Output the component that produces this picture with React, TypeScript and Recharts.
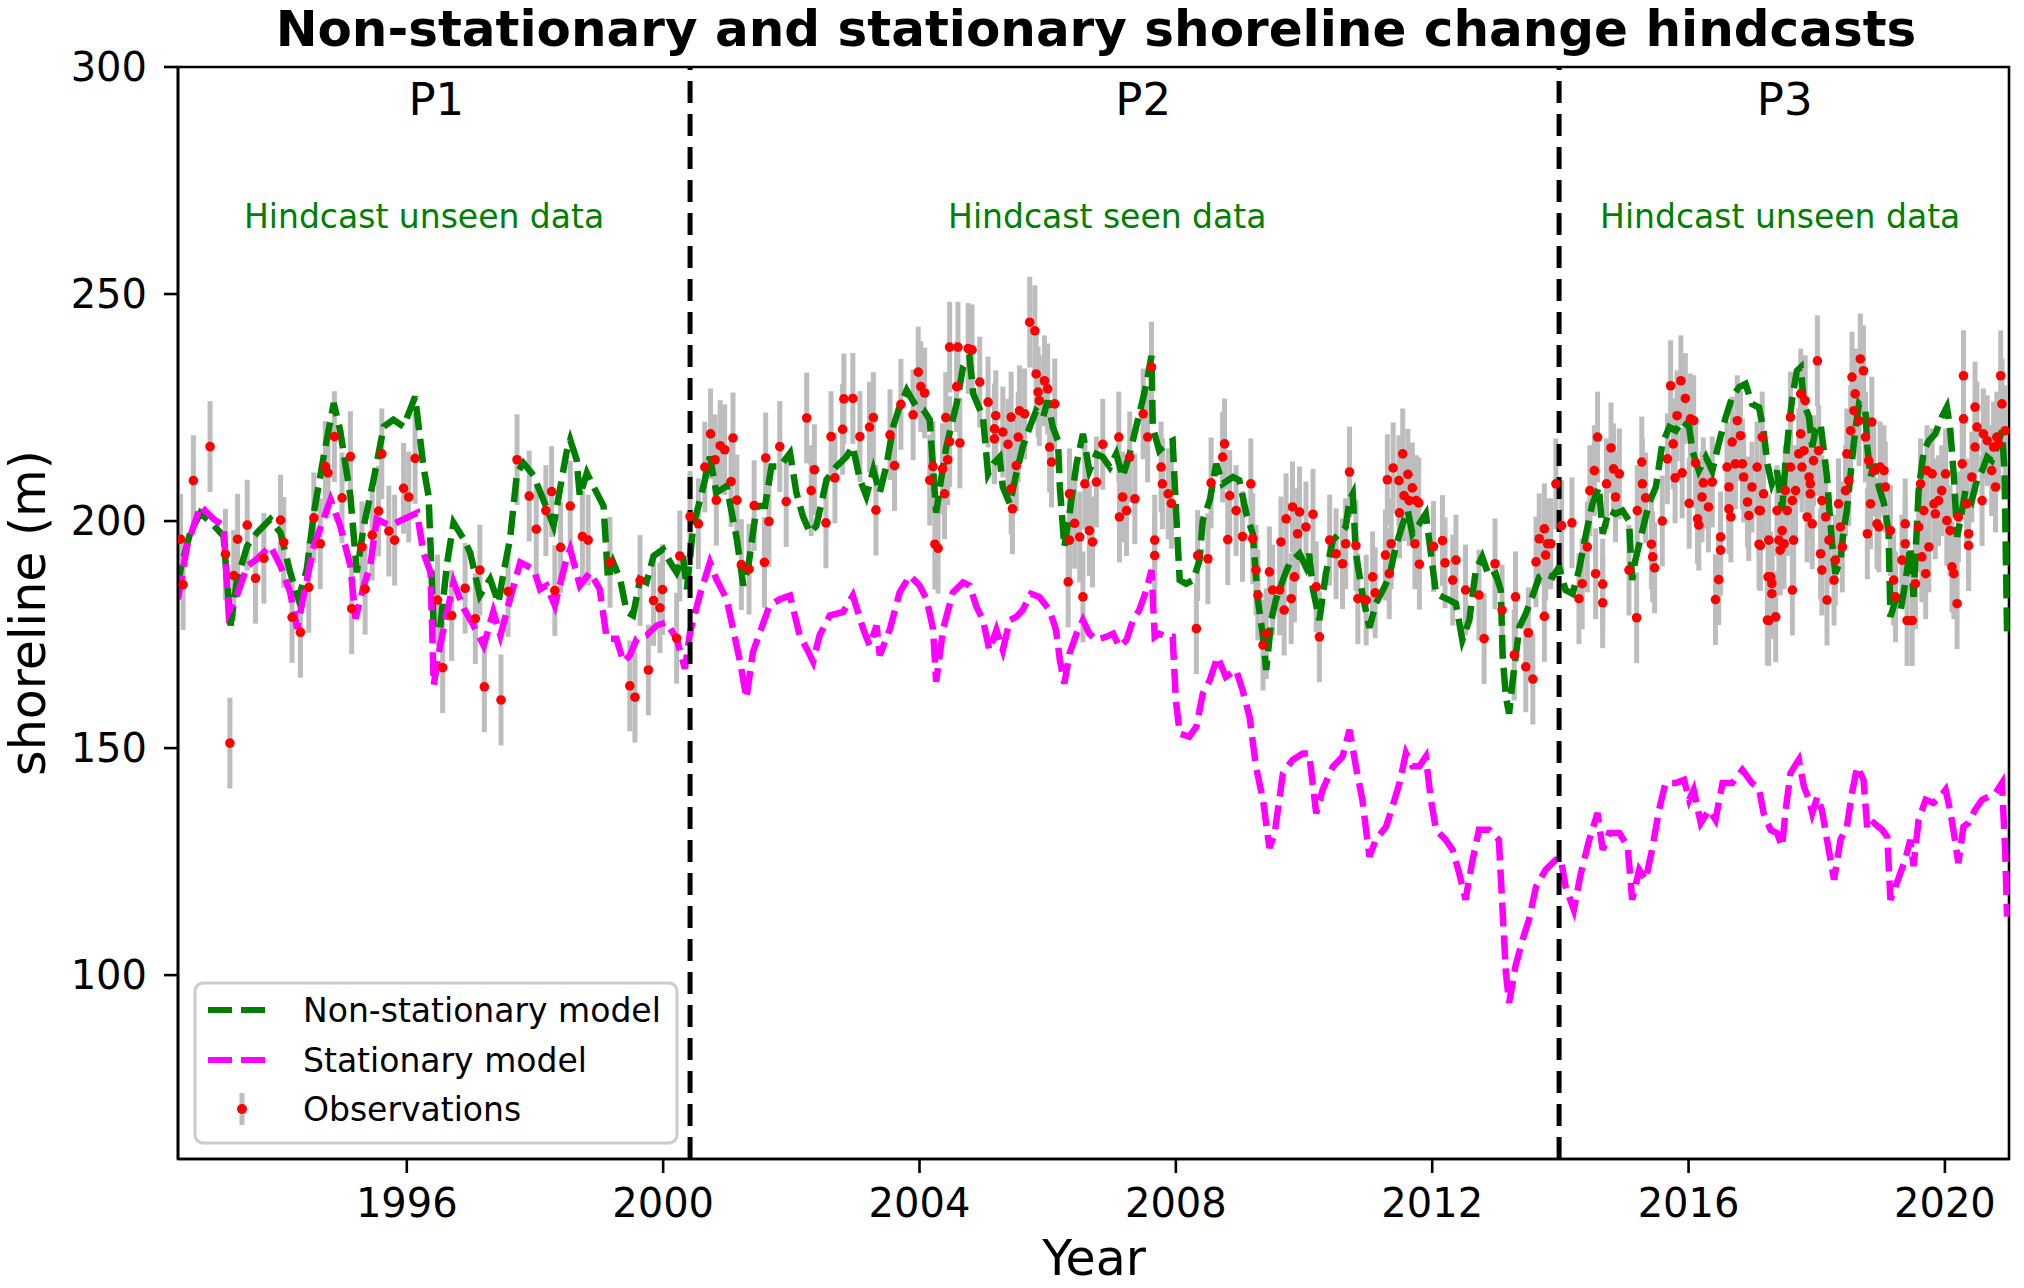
import React from "react";
import {
  ComposedChart,
  Line,
  Scatter,
  ErrorBar,
  XAxis,
  YAxis,
  ReferenceLine,
  ReferenceDot,
  ReferenceArea,
} from "recharts";

type Pt = [number, number];

// [year, shoreline (m)]
const NON_STATIONARY: Pt[] = [
  [1992.43, 185], [1992.47, 189.4], [1992.62, 197.4], [1992.78, 201.8], [1992.99, 199], [1993.14, 196.7],
  [1993.25, 177], [1993.35, 187], [1993.51, 194.5], [1993.66, 197.4], [1993.87, 200.4], [1994.03, 197.4],
  [1994.18, 188.7], [1994.31, 182.8], [1994.44, 189.4], [1994.55, 201.8], [1994.7, 214], [1994.86, 226],
  [1994.96, 220], [1995.12, 205.5], [1995.22, 188.7], [1995.33, 199], [1995.48, 209], [1995.64, 220.8],
  [1995.79, 222.3], [1995.95, 220.8], [1996.05, 224.5], [1996.13, 227.4], [1996.26, 212], [1996.34, 205.5],
  [1996.42, 176.3], [1996.52, 176.3], [1996.63, 190.9], [1996.73, 199.6], [1996.89, 196], [1996.99, 193],
  [1997.14, 183.6], [1997.3, 187.2], [1997.43, 182], [1997.51, 188.7], [1997.61, 196], [1997.72, 210.6],
  [1997.82, 212.8], [1997.98, 210], [1998.13, 204.7], [1998.29, 199], [1998.49, 215],
  [1998.55, 217.9], [1998.65, 213.5], [1998.7, 205.5], [1998.81, 210.6], [1998.91, 207.7], [1999.07, 203.3],
  [1999.14, 187.2], [1999.22, 190.9], [1999.33, 187.2], [1999.43, 180], [1999.53, 179.2], [1999.64, 187.2],
  [1999.74, 186.5], [1999.85, 192.3], [2000.0, 193.8], [2000.11, 190.9], [2000.21, 188.7], [2000.31, 192.3],
  [2000.37, 185], [2000.47, 198.9], [2000.63, 207.7], [2000.73, 214.2], [2000.83, 206.2], [2000.99, 207.7],
  [2001.09, 200.4], [2001.15, 196], [2001.25, 185.8], [2001.33, 190.1], [2001.46, 203.3], [2001.59, 203.3],
  [2001.69, 212], [2001.82, 212], [2001.98, 215], [2002.08, 206.2], [2002.18, 201.1], [2002.29, 197.4],
  [2002.39, 198.9], [2002.55, 209.1], [2002.7, 212], [2002.86, 214.2], [2002.96, 216.4], [2003.07, 209.1],
  [2003.17, 205.5], [2003.28, 211.3], [2003.38, 206.2], [2003.48, 212], [2003.59, 220.8], [2003.69, 225.2],
  [2003.8, 228.8], [2003.95, 225.2], [2004.06, 224.5], [2004.16, 222.3], [2004.26, 201.8], [2004.32, 207.7],
  [2004.42, 216.4], [2004.58, 225.9], [2004.68, 234], [2004.78, 236.1],
  [2004.84, 228], [2004.99, 222.9], [2005.07, 210.4], [2005.15, 212.6], [2005.25, 214.1], [2005.3, 207.5],
  [2005.41, 203.8], [2005.51, 210.4], [2005.61, 216.3], [2005.72, 220.7], [2005.82, 224.3], [2005.93, 222.9],
  [2006.0, 226.5], [2006.08, 220.7], [2006.16, 217.7], [2006.19, 207.5], [2006.26, 194.3], [2006.34, 201.6],
  [2006.45, 212.6], [2006.55, 219.2], [2006.65, 211.1], [2006.76, 214.8], [2006.86, 214.1], [2006.97, 211.9],
  [2007.07, 214.8], [2007.17, 209.7], [2007.28, 214.8], [2007.38, 220.7], [2007.48, 226.5], [2007.54, 230.2],
  [2007.62, 236.4], [2007.64, 220.7], [2007.74, 215.5], [2007.85, 217], [2007.95, 217.7], [2008.0, 203.1],
  [2008.06, 187], [2008.16, 186.2], [2008.27, 187], [2008.37, 191.4], [2008.42, 200.2], [2008.53, 204.6],
  [2008.63, 212.6], [2008.73, 208.2], [2008.89, 209.7], [2008.99, 209], [2009.1, 201.6], [2009.2, 197.2],
  [2009.28, 182.6], [2009.36, 174.5], [2009.41, 167.2], [2009.49, 178.2], [2009.56, 182.6], [2009.67, 187],
  [2009.77, 190.6], [2009.93, 192.8], [2010.03, 189.9], [2010.08, 192.8], [2010.14, 184.8], [2010.24, 178.2],
  [2010.34, 188.4], [2010.45, 195.8], [2010.55, 197.2], [2010.65, 198.7], [2010.71, 204.6], [2010.76, 206],
  [2010.81, 192.8], [2010.91, 184], [2011.02, 176.5],
  [2011.12, 181.8], [2011.23, 184.8], [2011.33, 187.7], [2011.43, 194.3], [2011.54, 199.4], [2011.62, 202.3],
  [2011.69, 197.2], [2011.8, 199.4], [2011.9, 201.6], [2011.98, 192.8], [2012.06, 184], [2012.16, 183.3],
  [2012.27, 182.6], [2012.37, 181.8], [2012.47, 173.8], [2012.58, 178.2], [2012.68, 189.2], [2012.78, 192.1],
  [2012.89, 187.7], [2012.99, 188.4], [2013.07, 184.8], [2013.1, 170.1], [2013.15, 161.3], [2013.2, 157.6],
  [2013.25, 164.2], [2013.36, 176.7], [2013.46, 179.6], [2013.56, 183.3], [2013.67, 187.7], [2013.77, 188.4],
  [2013.88, 187.7], [2013.98, 189.9], [2014.08, 184.8], [2014.19, 184], [2014.29, 189.2], [2014.4, 197.2],
  [2014.5, 203.8], [2014.6, 207.5], [2014.66, 197.2], [2014.76, 202.3], [2014.86, 201.6], [2014.97, 202.3],
  [2015.07, 200.1], [2015.12, 187], [2015.17, 191.4], [2015.28, 197.9], [2015.38, 203.8], [2015.49, 207.5],
  [2015.59, 217], [2015.7, 220.7], [2015.8, 219.9], [2015.9, 222.1], [2016.01, 220.7], [2016.06, 215.5],
  [2016.16, 211.1], [2016.27, 214.1], [2016.37, 211.1], [2016.47, 217], [2016.58, 222.9], [2016.68, 227.3],
  [2016.79, 229.5], [2016.89, 230.2], [2016.99, 225.8], [2017.1, 225],
  [2017.17, 219.9], [2017.23, 212.6], [2017.3, 208.2], [2017.38, 211.1], [2017.46, 202.3], [2017.51, 212.6],
  [2017.57, 221.4], [2017.62, 227.3], [2017.69, 233.1], [2017.75, 233.9], [2017.8, 225.8], [2017.88, 222.9],
  [2017.93, 216.3], [2017.98, 219.9], [2018.06, 221.4], [2018.11, 215.5], [2018.16, 209.7], [2018.19, 203.8],
  [2018.24, 195], [2018.29, 188.4], [2018.37, 191.4], [2018.42, 197.9], [2018.47, 202.3], [2018.55, 213.3],
  [2018.6, 219.9], [2018.66, 225.8], [2018.76, 224.3], [2018.79, 216.3], [2018.84, 209.7], [2018.89, 212.6],
  [2018.97, 207.5], [2019.05, 203.8], [2019.12, 197.9], [2019.15, 178.9], [2019.23, 182.6], [2019.31, 180.4],
  [2019.38, 186.2], [2019.46, 194.3], [2019.51, 183.3], [2019.59, 206.7], [2019.67, 215.5], [2019.75, 217.7],
  [2019.85, 219.2], [2019.95, 222.9], [2020.03, 225.1], [2020.08, 220.7], [2020.14, 209.7], [2020.19, 196.5],
  [2020.24, 200.1], [2020.32, 206.7], [2020.42, 204.5], [2020.5, 209], [2020.58, 211.1], [2020.66, 214.1],
  [2020.73, 213.3], [2020.81, 216.3], [2020.89, 219.9], [2020.93, 211.1], [2020.97, 175.2],
];

const STATIONARY: Pt[] = [
  [1992.43, 182.8], [1992.57, 194.5], [1992.78, 203.3], [1992.99, 200.4], [1993.14, 199], [1993.22, 180],
  [1993.35, 183.6], [1993.51, 190.1], [1993.66, 191.6], [1993.87, 194.5], [1994.03, 190.1], [1994.18, 184.3],
  [1994.29, 176.3], [1994.39, 183.6], [1994.55, 194.5], [1994.7, 200.4], [1994.81, 204.7], [1994.96, 199],
  [1995.12, 190.1], [1995.2, 178.5], [1995.33, 185.8], [1995.43, 190.1], [1995.53, 200.4], [1995.74, 199],
  [1995.95, 200.4], [1996.16, 201.8], [1996.26, 193], [1996.37, 188.7], [1996.42, 163.9], [1996.52, 172.6],
  [1996.63, 180], [1996.73, 186.5], [1996.89, 180.7], [1997.04, 177], [1997.2, 172.6], [1997.35, 180],
  [1997.46, 174.8], [1997.61, 182.8], [1997.77, 190.9], [1997.98, 189.4], [1998.08, 185], [1998.18, 185.8],
  [1998.31, 181.4], [1998.49, 191.6],
  [1998.55, 193.8], [1998.7, 185.8], [1998.86, 188.7], [1999.01, 185], [1999.12, 174.1], [1999.27, 174.1],
  [1999.38, 169], [1999.48, 170.4], [1999.59, 174.1], [1999.74, 174.8], [1999.9, 177], [2000.05, 177.7],
  [2000.21, 174.1], [2000.34, 167.5], [2000.42, 175.5], [2000.57, 183.6], [2000.73, 190.9], [2000.83, 187.2],
  [2000.99, 182.8], [2001.09, 176.3], [2001.2, 169], [2001.3, 161], [2001.4, 171.1], [2001.51, 175.5],
  [2001.66, 181.4], [2001.82, 182.8], [2001.98, 183.6], [2002.13, 174.8], [2002.24, 171.9], [2002.34, 169],
  [2002.44, 174.8], [2002.6, 179.2], [2002.81, 180], [2002.96, 183.6], [2003.12, 176.3], [2003.22, 172.6],
  [2003.33, 177], [2003.38, 170.4], [2003.54, 176.3], [2003.69, 184.3], [2003.85, 188], [2004.0, 185.8],
  [2004.11, 182.8], [2004.21, 176.3], [2004.26, 164.6], [2004.37, 176.3], [2004.52, 184.3], [2004.68, 186.5],
  [2004.78, 185.8],
  [2004.89, 181.1], [2004.99, 178.2], [2005.09, 171.6], [2005.2, 176], [2005.3, 171.6], [2005.41, 178.2],
  [2005.51, 178.9], [2005.61, 180.4], [2005.74, 184], [2005.87, 183.3], [2006.03, 180.4], [2006.13, 176],
  [2006.19, 169.4], [2006.26, 164.2], [2006.34, 170.8], [2006.45, 175.2], [2006.55, 178.2], [2006.65, 175.2],
  [2006.76, 173.8], [2006.91, 174.5], [2007.02, 175.2], [2007.12, 172.3], [2007.23, 173.8], [2007.33, 178.2],
  [2007.43, 180.4], [2007.54, 184.8], [2007.62, 189.2], [2007.67, 174.5], [2007.74, 175.2], [2007.85, 174.5],
  [2007.95, 174.5], [2008.0, 160.6], [2008.06, 153.2], [2008.21, 152.5], [2008.32, 154.7], [2008.42, 162],
  [2008.53, 165], [2008.65, 170.1], [2008.78, 165.7], [2008.94, 167.2], [2009.04, 162.8], [2009.15, 156.9],
  [2009.25, 145.9], [2009.36, 138.6], [2009.46, 128], [2009.54, 131], [2009.67, 144.4], [2009.82, 147.4],
  [2009.98, 148.8], [2010.08, 148.8], [2010.19, 135.6], [2010.29, 140.8], [2010.45, 145.9], [2010.6, 148.1],
  [2010.71, 154], [2010.81, 145.9], [2010.91, 138.6],
  [2011.02, 126.1], [2011.12, 129.8], [2011.28, 132.7], [2011.38, 137.1], [2011.49, 142.3], [2011.59, 148.9],
  [2011.69, 146], [2011.8, 146], [2011.9, 148.1], [2011.98, 138.6], [2012.06, 132], [2012.21, 129.8],
  [2012.32, 127.6], [2012.42, 122.5], [2012.52, 116.6], [2012.63, 125.4], [2012.73, 132], [2012.89, 132],
  [2013.04, 129.8], [2013.1, 113.7], [2013.15, 100.5], [2013.2, 93.9], [2013.3, 102], [2013.41, 107.8],
  [2013.51, 112.2], [2013.62, 119.5], [2013.77, 123.2], [2013.93, 125.4], [2014.01, 125.4], [2014.08, 119.5],
  [2014.21, 114.4], [2014.32, 122.5], [2014.45, 129.8], [2014.58, 135.7], [2014.66, 127.6], [2014.76, 131.3],
  [2014.92, 131.3], [2015.05, 128.3], [2015.12, 116.6], [2015.23, 123.2], [2015.33, 121], [2015.43, 127.6],
  [2015.54, 136.4], [2015.64, 142.3], [2015.8, 142.3], [2015.93, 143], [2016.01, 138.6], [2016.08, 140.8],
  [2016.19, 133.5], [2016.32, 136.4], [2016.42, 134.2], [2016.53, 142.3], [2016.68, 142.3], [2016.84, 145.2],
  [2016.99, 142.3], [2017.1, 141],
  [2017.17, 135.7], [2017.28, 132], [2017.38, 131.3], [2017.46, 128.3], [2017.51, 135.7], [2017.59, 144.5],
  [2017.72, 147.4], [2017.8, 141.5], [2017.88, 138.6], [2017.93, 135.7], [2018.01, 139.3], [2018.08, 136.4],
  [2018.16, 129.8], [2018.27, 121], [2018.37, 129.8], [2018.47, 132.7], [2018.55, 140.1], [2018.63, 145.9],
  [2018.73, 143], [2018.79, 132], [2018.89, 133.5], [2019.02, 132], [2019.1, 130.5], [2019.15, 116.6],
  [2019.25, 120.3], [2019.38, 125.4], [2019.46, 129.8], [2019.51, 124], [2019.59, 134.2], [2019.7, 138.6],
  [2019.82, 137.9], [2019.93, 139.3], [2020.01, 140.8], [2020.08, 136.4], [2020.14, 131.3], [2020.21, 124.7],
  [2020.29, 132.7], [2020.37, 133.5], [2020.47, 136.4], [2020.58, 138.6], [2020.68, 139.3], [2020.79, 140.1],
  [2020.89, 142.3], [2020.94, 127.6], [2020.97, 112.9],
];

const OBSERVATIONS: Pt[] = [
  [1992.47, 196], [1992.51, 186], [1992.67, 208.9], [1992.93, 216.4], [1993.17, 192.7], [1993.24, 151.1],
  [1993.3, 188], [1993.36, 196], [1993.51, 199.1], [1993.64, 187.4], [1993.77, 191.8], [1994.03, 200.2],
  [1994.08, 195.3], [1994.21, 178.8], [1994.34, 175.5], [1994.47, 185.4], [1994.55, 200.7], [1994.65, 195],
  [1994.73, 212], [1994.77, 210.6], [1994.87, 218.6], [1994.99, 205.1], [1995.12, 214.2], [1995.14, 180.7],
  [1995.3, 194.3], [1995.35, 185], [1995.46, 196.9], [1995.56, 202.2], [1995.61, 214.8], [1995.72, 197.8],
  [1995.81, 195.8], [1995.95, 207.2], [1996.03, 205.3], [1996.13, 213.8], [1996.48, 182.6], [1996.56, 167.7],
  [1996.7, 179.2], [1996.91, 185.2], [1997.07, 178.5], [1997.14, 189.2], [1997.21, 163.5], [1997.47, 160.6],
  [1997.58, 184.5], [1997.72, 213.5], [1997.91, 205.5], [1998.02, 198.2], [1998.17, 202.3], [1998.26, 206.5],
  [1998.31, 184.7], [1998.4, 194.2], [1998.55, 203.3],
  [1998.74, 196.6], [1998.83, 195.8], [1999.17, 190.9], [1999.48, 163.7], [1999.56, 161.2], [1999.64, 186.9],
  [1999.77, 167.2], [1999.85, 182.5], [1999.95, 180.9], [1999.99, 184.9], [2000.21, 174.2], [2000.26, 192.3],
  [2000.42, 201], [2000.55, 199.4], [2000.65, 211.9], [2000.74, 219.2], [2000.81, 213.5], [2000.83, 204.6],
  [2000.89, 216.6], [2000.96, 215.7], [2001.06, 208.7], [2001.09, 218.3], [2001.15, 204.6], [2001.22, 190.4],
  [2001.34, 189.4], [2001.42, 203.4], [2001.58, 190.9], [2001.6, 213.9], [2001.65, 199.9], [2001.82, 216.4],
  [2001.92, 204.3], [2002.24, 222.7], [2002.31, 206.7], [2002.36, 211.3], [2002.54, 199.6], [2002.62, 218.6],
  [2002.68, 209.5], [2002.8, 220.2], [2002.82, 226.9], [2002.96, 227], [2003.07, 218.6], [2003.22, 220.7],
  [2003.28, 222.8], [2003.32, 202.4], [2003.54, 219], [2003.61, 212.2], [2003.71, 225.7], [2003.9, 223.4],
  [2003.98, 232.8], [2004.02, 229.6], [2004.08, 228.2], [2004.16, 209], [2004.21, 212], [2004.24, 194.9],
  [2004.29, 194], [2004.36, 211.5], [2004.39, 206], [2004.41, 222.8], [2004.44, 213.5], [2004.47, 217.5],
  [2004.47, 238.3], [2004.58, 229.6], [2004.6, 238.3], [2004.63, 217.2], [2004.76, 238],
  [2004.82, 237.7], [2004.94, 230.6], [2005.07, 226.2], [2005.17, 220.3], [2005.17, 218.1], [2005.19, 223.2],
  [2005.3, 219.6], [2005.38, 216.9], [2005.43, 222.9], [2005.43, 207.1], [2005.45, 202.7], [2005.51, 212.2],
  [2005.54, 218.5], [2005.56, 224.3], [2005.64, 223.6], [2005.72, 243.8], [2005.8, 241.9], [2005.82, 232.4],
  [2005.85, 228.4], [2005.87, 226.5], [2005.95, 230.9], [2006.0, 229.1], [2006.03, 216.3], [2006.06, 213],
  [2006.11, 225.8], [2006.32, 186.6], [2006.34, 206], [2006.34, 195.8], [2006.42, 199.5], [2006.5, 196.5],
  [2006.55, 183.3], [2006.58, 208.2], [2006.65, 197.9], [2006.7, 195.4], [2006.76, 208.6], [2006.86, 216.9],
  [2007.11, 218.5], [2007.12, 200.9], [2007.17, 205.3], [2007.23, 202.3], [2007.28, 214.1], [2007.36, 204.9],
  [2007.49, 223.6], [2007.56, 218.5], [2007.62, 233.9], [2007.67, 195.8], [2007.67, 192.4], [2007.77, 211.9],
  [2007.79, 208.2], [2007.88, 206], [2007.93, 203.9], [2008.32, 176.3], [2008.34, 192.4], [2008.5, 191.7],
  [2008.55, 208.4], [2008.73, 214.1], [2008.76, 217], [2008.81, 195.9], [2008.84, 205.6], [2008.94, 202.3],
  [2009.04, 196.6], [2009.17, 208.2], [2009.2, 196.1], [2009.25, 189.2], [2009.28, 183.7], [2009.36, 172.7],
  [2009.41, 175.2], [2009.46, 188.8], [2009.51, 184.8], [2009.62, 184.8], [2009.64, 195.4], [2009.69, 180.4],
  [2009.72, 200.5], [2009.8, 182.9], [2009.82, 203.1], [2009.85, 187.7], [2009.9, 197.2], [2009.93, 202],
  [2010.03, 198.7], [2010.14, 201.5], [2010.19, 185.5], [2010.24, 174.5], [2010.4, 195.8], [2010.5, 192.8],
  [2010.6, 190.6], [2010.65, 195], [2010.71, 210.8], [2010.81, 194.6], [2010.84, 182.9], [2010.97, 182.6],
  [2011.07, 187.7], [2011.11, 184.2], [2011.27, 192.5], [2011.3, 209.1], [2011.33, 188.4], [2011.36, 195],
  [2011.39, 211.7], [2011.48, 208.9], [2011.49, 201.8], [2011.54, 214.8], [2011.56, 205.6], [2011.62, 210.3],
  [2011.64, 204.5], [2011.69, 207.3], [2011.73, 195], [2011.75, 204.5], [2011.79, 204], [2011.8, 190.5],
  [2012.02, 194.4], [2012.16, 195.7], [2012.2, 190.8], [2012.32, 187], [2012.37, 191.4], [2012.52, 184.8],
  [2012.73, 183.7], [2012.81, 174.1], [2012.98, 190.6], [2013.09, 180.4], [2013.28, 170.5], [2013.3, 183.3],
  [2013.46, 167.9], [2013.5, 175.4], [2013.57, 165.2], [2013.62, 191], [2013.67, 196.1], [2013.75, 198.3],
  [2013.75, 179], [2013.77, 192.5], [2013.8, 195], [2013.85, 195], [2013.93, 208.2], [2014.02, 199],
  [2014.18, 199.6], [2014.29, 182.9], [2014.34, 186.2], [2014.42, 194.3], [2014.46, 206.7], [2014.53, 211.1],
  [2014.55, 188.4], [2014.58, 218.5], [2014.66, 186.1], [2014.66, 182], [2014.72, 208.2], [2014.79, 216.1],
  [2014.83, 211.5], [2014.86, 205.3], [2014.92, 210.4], [2015.07, 189.2], [2015.19, 178.7], [2015.2, 202.3],
  [2015.27, 213], [2015.28, 208.2], [2015.33, 205.1], [2015.42, 194.9], [2015.44, 192.1], [2015.47, 189.7],
  [2015.59, 200], [2015.67, 213.7], [2015.72, 229.8], [2015.76, 217], [2015.79, 209.5], [2015.82, 223.2],
  [2015.88, 230.9], [2015.9, 210.6], [2015.95, 227], [2016.01, 203.9], [2016.03, 222.5], [2016.08, 222.1],
  [2016.11, 212.8], [2016.14, 200.5], [2016.16, 199.1], [2016.21, 205.3], [2016.23, 208.4], [2016.31, 203.1],
  [2016.37, 208.6], [2016.42, 182.7], [2016.47, 187.1], [2016.5, 196.5], [2016.5, 193.6], [2016.6, 211.9],
  [2016.63, 207.5], [2016.63, 202.7], [2016.66, 200.9], [2016.68, 217.4], [2016.73, 212.6], [2016.76, 222.1],
  [2016.81, 218.8], [2016.84, 212.6], [2016.86, 209.7], [2016.92, 204.2], [2016.94, 201.2], [2016.99, 207.5],
  [2017.07, 211.9], [2017.1, 202.3], [2017.1, 194.9], [2017.23, 178.2], [2017.24, 187.7],
  [2017.12, 194.6], [2017.12, 202.3], [2017.15, 218.5], [2017.17, 206], [2017.25, 195.8], [2017.28, 187.7],
  [2017.3, 186.2], [2017.3, 184], [2017.25, 178.1], [2017.36, 178.9], [2017.38, 202.3], [2017.41, 195.8],
  [2017.43, 193.6], [2017.46, 197.9], [2017.49, 195], [2017.51, 206.7], [2017.54, 202.3], [2017.59, 211.9],
  [2017.59, 222.9], [2017.62, 184.8], [2017.62, 204.5], [2017.64, 195.8], [2017.67, 206.7], [2017.72, 214.8],
  [2017.75, 228], [2017.75, 219.2], [2017.77, 211.9], [2017.8, 215.5], [2017.82, 226.5], [2017.85, 200.9],
  [2017.88, 209.7], [2017.9, 208.2], [2017.9, 206], [2017.93, 199.4], [2017.95, 213.3], [2018.01, 235.3],
  [2018.03, 215.5], [2018.06, 192.8], [2018.08, 204.5], [2018.08, 189.2], [2018.14, 200.9], [2018.16, 182.6],
  [2018.19, 195.8], [2018.27, 187], [2018.29, 191.4], [2018.34, 203.8], [2018.37, 198.7], [2018.4, 194.3],
  [2018.45, 206.7], [2018.47, 214.8], [2018.5, 208.9], [2018.53, 219.9], [2018.55, 231.7], [2018.58, 224.3],
  [2018.6, 228], [2018.66, 222.1], [2018.68, 235.7], [2018.73, 233.1], [2018.76, 218.5], [2018.79, 197.2],
  [2018.81, 213.3], [2018.84, 203.8], [2018.86, 221.8], [2018.89, 211.1], [2018.94, 199.4], [2018.97, 198.7],
  [2018.99, 211.9], [2019.05, 211.1], [2019.07, 207.5], [2019.15, 197.9], [2019.2, 187], [2019.23, 183.3],
  [2019.33, 191.4], [2019.38, 199.4], [2019.38, 195], [2019.41, 178.1], [2019.49, 178.1], [2019.54, 186.2],
  [2019.59, 198.7], [2019.62, 208.2], [2019.64, 192.1], [2019.67, 202.3], [2019.7, 188.4], [2019.72, 211.1],
  [2019.75, 194.3], [2019.8, 210.4], [2019.83, 203.8], [2019.85, 201.6], [2019.9, 204.5], [2019.95, 206.7],
  [2020.01, 210.4], [2020.03, 200.1], [2020.08, 197.9], [2020.11, 189.9], [2020.14, 188.4], [2020.19, 181.8],
  [2020.21, 200.9], [2020.27, 212.6], [2020.29, 232], [2020.29, 222.5], [2020.34, 203.8], [2020.37, 197.2],
  [2020.37, 194.6], [2020.42, 209.7], [2020.47, 225.1], [2020.47, 216.3], [2020.5, 220.7], [2020.58, 204.5],
  [2020.6, 219.2], [2020.66, 217.7], [2020.73, 211.1], [2020.76, 216.3], [2020.79, 207.5], [2020.81, 218.5],
  [2020.84, 217], [2020.87, 232], [2020.89, 225.8], [2020.94, 219.9],
];

const OBS_ERROR = 10;

const YEAR_TICKS = [1996, 2000, 2004, 2008, 2012, 2016, 2020];
const SHORE_TICKS = [100, 150, 200, 250, 300];
const YEAR_DOMAIN: [number, number] = [1992.43, 2021.0];
const SHORE_DOMAIN: [number, number] = [59.5, 300];
const PERIOD_BREAKS = [2000.42, 2013.98];

const PERIOD_LABELS = [
  { text: "P1", year: 1996.46 },
  { text: "P2", year: 2007.49 },
  { text: "P3", year: 2017.5 },
];
const HINDCAST_LABELS = [
  { text: "Hindcast unseen data", year: 1996.27 },
  { text: "Hindcast seen data", year: 2006.93 },
  { text: "Hindcast unseen data", year: 2017.43 },
];

const W = 2024;
const H = 1288;
const FONT = "DejaVu Sans, Verdana, sans-serif";
const GREEN = "#008000";
const MAGENTA = "#ff00ff";
const RED = "#ff0000";
const SILVER = "#bdbdbd";

const toRows = (pts: Pt[]) => pts.map(([year, value]) => ({ year, value }));

// centred text label for a zero-radius ReferenceDot
const annotation =
  (text: string, size: number, color: string) =>
  (props: any) => {
    const vb = props.viewBox || {};
    const cx = (vb.x ?? 0) + (vb.width ?? 0) / 2;
    const cy = (vb.y ?? 0) + (vb.height ?? 0) / 2;
    return (
      <text
        x={cx}
        y={cy + size * 0.365}
        textAnchor="middle"
        fontSize={size}
        fontFamily={FONT}
        fill={color}
      >
        {text}
      </text>
    );
  };

export default function App() {
  const nonStationary = toRows(NON_STATIONARY);
  const stationary = toRows(STATIONARY);
  const observations = OBSERVATIONS.map(([year, value]) => ({
    year,
    value,
    err: OBS_ERROR,
  }));

  const axisStroke = { stroke: "#000", strokeWidth: 2.6 };
  const tickStyle = { fontSize: 40, fill: "#000", fontFamily: FONT };

  return (
    <div style={{ position: "relative", width: W, height: H, background: "#fff", fontFamily: FONT }}>
      <style>{"body{margin:0}"}</style>
      <ComposedChart width={W} height={H} margin={{ top: 67, right: 15, bottom: 0, left: 0 }}>
        <XAxis
          type="number"
          dataKey="year"
          domain={YEAR_DOMAIN}
          ticks={YEAR_TICKS}
          allowDataOverflow
          height={129}
          tickSize={14}
          tickMargin={16}
          tick={tickStyle}
          axisLine={axisStroke}
          tickLine={axisStroke}
        />
        <YAxis
          type="number"
          domain={SHORE_DOMAIN}
          ticks={SHORE_TICKS}
          allowDataOverflow
          width={178}
          tickSize={14}
          tickMargin={17}
          tick={tickStyle}
          axisLine={axisStroke}
          tickLine={axisStroke}
        />

        {/* grey uncertainty bars first, dots above them */}
        <Scatter data={observations} dataKey="value" shape={() => <g />} isAnimationActive={false}>
          <ErrorBar dataKey="err" direction="y" width={0} stroke={SILVER} strokeWidth={5} />
        </Scatter>
        <Scatter
          data={observations}
          dataKey="value"
          isAnimationActive={false}
          shape={(p: any) => <circle cx={p.cx} cy={p.cy} r={4.8} fill={RED} />}
        />

        <Line
          data={nonStationary}
          dataKey="value"
          type="linear"
          dot={false}
          stroke={GREEN}
          strokeWidth={6.5}
          strokeDasharray="24 9"
          isAnimationActive={false}
        />
        <Line
          data={stationary}
          dataKey="value"
          type="linear"
          dot={false}
          stroke={MAGENTA}
          strokeWidth={6.5}
          strokeDasharray="24 9"
          isAnimationActive={false}
        />

        {PERIOD_BREAKS.map((x) => (
          <ReferenceLine key={x} x={x} stroke="#000" strokeWidth={5} strokeDasharray="22 11" />
        ))}

        {PERIOD_LABELS.map((l) => (
          <ReferenceDot
            key={l.text}
            x={l.year}
            y={293}
            r={0}
            fill="none"
            stroke="none"
            label={annotation(l.text, 45, "#000")}
          />
        ))}
        {HINDCAST_LABELS.map((l) => (
          <ReferenceDot
            key={l.text + l.year}
            x={l.year}
            y={267.3}
            r={0}
            fill="none"
            stroke="none"
            label={annotation(l.text, 33, GREEN)}
          />
        ))}

        <ReferenceArea
          x1={YEAR_DOMAIN[0]}
          x2={YEAR_DOMAIN[1]}
          y1={SHORE_DOMAIN[0]}
          y2={SHORE_DOMAIN[1]}
          fill="none"
          fillOpacity={0}
          stroke="#000"
          strokeWidth={2.6}
        />
      </ComposedChart>

      <svg
        width={W}
        height={H}
        style={{ position: "absolute", left: 0, top: 0, pointerEvents: "none" }}
        fontFamily={FONT}
      >
        <text x={1096} y={46} textAnchor="middle" fontSize={50} fontWeight="bold" fill="#000">
          Non-stationary and stationary shoreline change hindcasts
        </text>
        <text x={1094} y={1275} textAnchor="middle" fontSize={49} fill="#000">
          Year
        </text>
        <text transform="translate(45,613) rotate(-90)" textAnchor="middle" fontSize={49} fill="#000">
          shoreline (m)
        </text>

        {/* legend */}
        <rect x={195} y={983} width={482} height={160} rx={8} fill="#fff" fillOpacity={0.8} stroke="#cccccc" strokeWidth={3} />
        <line x1={208} x2={274} y1={1010} y2={1010} stroke={GREEN} strokeWidth={6} strokeDasharray="24 9" />
        <text x={303} y={1022} fontSize={33} fill="#000">Non-stationary model</text>
        <line x1={208} x2={274} y1={1060} y2={1060} stroke={MAGENTA} strokeWidth={6} strokeDasharray="24 9" />
        <text x={303} y={1072} fontSize={33} fill="#000">Stationary model</text>
        <line x1={242} x2={242} y1={1093} y2={1125} stroke={SILVER} strokeWidth={5} />
        <circle cx={242} cy={1109} r={5} fill={RED} />
        <text x={303} y={1121} fontSize={33} fill="#000">Observations</text>
      </svg>
    </div>
  );
}
